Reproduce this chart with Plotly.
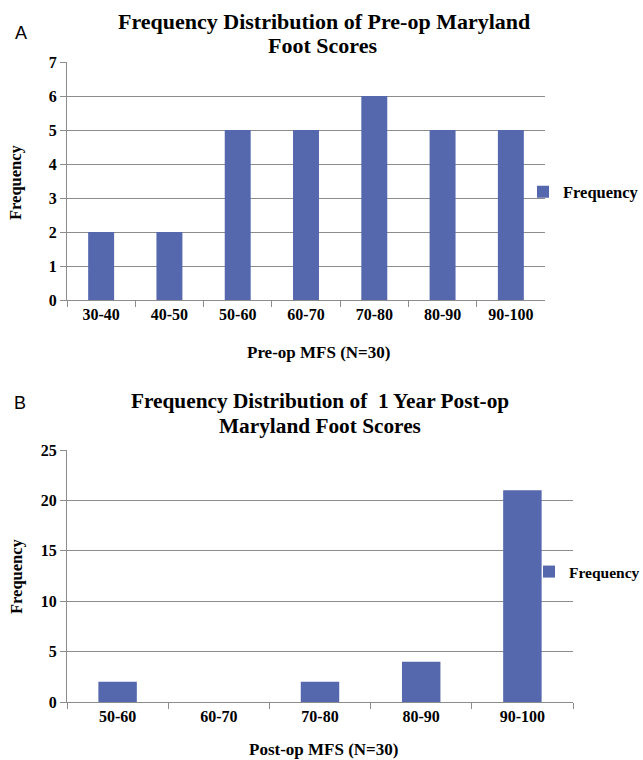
import plotly.graph_objects as go

pre_cats = ["30-40", "40-50", "50-60", "60-70", "70-80", "80-90", "90-100"]
pre_vals = [2, 2, 5, 5, 6, 5, 5]
post_cats = ["50-60", "60-70", "70-80", "80-90", "90-100"]
post_vals = [2, 0, 2, 4, 21]

W, H = 643, 760
BAR = "#5567ad"
AXC = "#8c8c8c"
FONT = "Liberation Serif"

def px(x):
    return x / W

def py(y):
    return 1 - y / H

fig = go.Figure()
fig.add_trace(go.Bar(x=pre_cats, y=pre_vals, name="Frequency", marker_color=BAR,
                     marker_line_width=0, xaxis="x", yaxis="y", legend="legend"))
fig.add_trace(go.Bar(x=post_cats, y=post_vals, name="Frequency", marker_color=BAR,
                     marker_line_width=0, xaxis="x2", yaxis="y2", legend="legend2"))

axis_common = dict(showline=True, linecolor=AXC, linewidth=1,
                   ticks="outside", tickcolor=AXC, ticklen=6, automargin=False,
                   tickfont=dict(family=FONT, size=16, color="black", weight="bold"))

fig.update_layout(
    template="none",
    width=W, height=H,
    margin=dict(l=0, r=0, t=0, b=0, pad=0, autoexpand=False),
    paper_bgcolor="white", plot_bgcolor="white",
    bargap=0.62,
    font=dict(family=FONT, color="black"),
    xaxis=dict(domain=[px(67), px(545)], anchor="y", tickson="boundaries",
               showgrid=False, **axis_common),
    yaxis=dict(domain=[py(300), py(62)], anchor="x", range=[0, 7], dtick=1,
               showgrid=True, gridcolor=AXC, gridwidth=1, zeroline=False, **axis_common),
    xaxis2=dict(domain=[px(67), px(573)], anchor="y2", tickson="boundaries",
                showgrid=False, **axis_common),
    yaxis2=dict(domain=[py(702), py(450)], anchor="x2", range=[0, 25], dtick=5,
                showgrid=True, gridcolor=AXC, gridwidth=1, zeroline=False, **axis_common),
    legend=dict(x=px(523), y=py(192), xanchor="left", yanchor="middle",
                font=dict(family=FONT, size=16.5, color="black", weight="bold"),
                bgcolor="rgba(0,0,0,0)", borderwidth=0, itemwidth=30),
    legend2=dict(x=px(529), y=py(572), xanchor="left", yanchor="middle",
                 font=dict(family=FONT, size=15.5, color="black", weight="bold"),
                 bgcolor="rgba(0,0,0,0)", borderwidth=0, itemwidth=30),
    showlegend=True,
)

def ann(text, x, y, size, angle=0, bold=True, family=FONT):
    fig.add_annotation(text=text, x=px(x), y=py(y), xref="paper", yref="paper",
                       showarrow=False, textangle=angle, xanchor="center", yanchor="middle",
                       font=dict(family=family, size=size, color="black",
                                 weight="bold" if bold else "normal"))

ann("Frequency Distribution of Pre-op Maryland", 324, 22, 22)
ann("Foot Scores", 322, 46, 22)
ann("Pre-op MFS (N=30)", 318, 352, 17)
ann("Frequency", 16, 182, 16.5, angle=-90)
ann("A", 21, 33, 18, bold=False, family="Liberation Sans")

ann("Frequency Distribution of  1 Year Post-op", 320, 401, 21.3)
ann("Maryland Foot Scores", 320, 426, 21.3)
ann("Post-op MFS (N=30)", 323, 749, 17)
ann("Frequency", 16, 576, 16.5, angle=-90)
ann("B", 20, 403, 18, bold=False, family="Liberation Sans")

fig.write_html("out.html",
               config={"displayModeBar": False},
               post_script="document.body.style.margin='0';document.body.style.overflow='hidden';")
